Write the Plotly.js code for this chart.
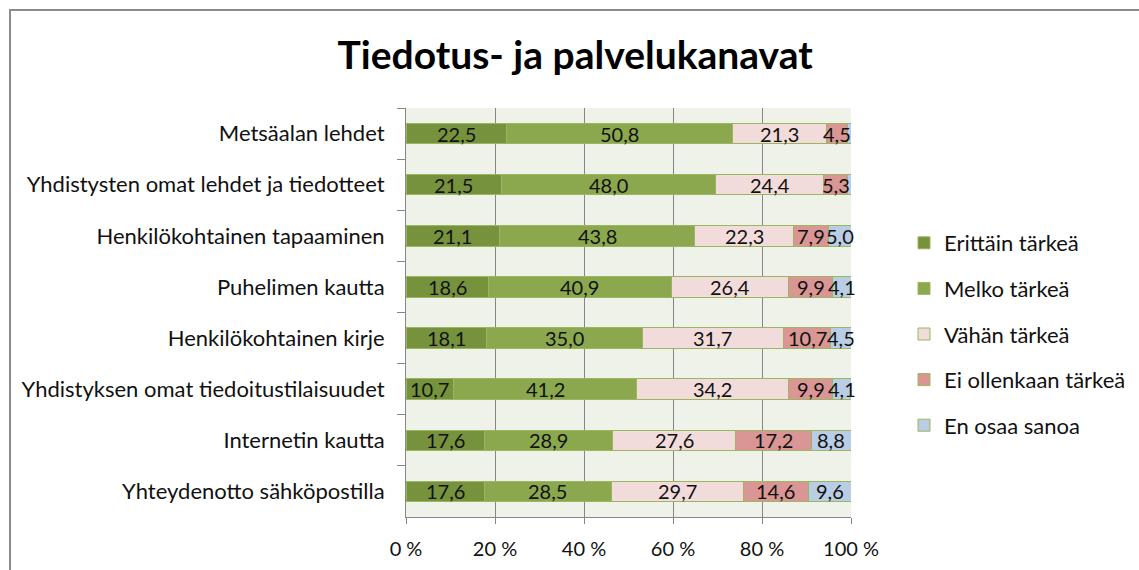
<!DOCTYPE html>
<html>
<head>
<meta charset="utf-8">
<script src="https://cdn.plot.ly/plotly-3.0.1.min.js"></script>
<style>
html,body{margin:0;padding:0;background:#fff;}
#chart{width:1139px;height:570px;}
</style>
</head>
<body>
<div id="chart"></div>
<script>
const categories = [
  "Metsäalan lehdet",
  "Yhdistysten omat lehdet ja tiedotteet",
  "Henkilökohtainen tapaaminen",
  "Puhelimen kautta",
  "Henkilökohtainen kirje",
  "Yhdistyksen omat tiedoitustilaisuudet",
  "Internetin kautta",
  "Yhteydenotto sähköpostilla"
];
const seriesNames = ["Erittäin tärkeä", "Melko tärkeä", "Vähän tärkeä", "Ei ollenkaan tärkeä", "En osaa sanoa"];
const erittain = [22.5, 21.5, 21.1, 18.6, 18.1, 10.7, 17.6, 17.6];
const melko    = [50.8, 48.0, 43.8, 40.9, 35.0, 41.2, 28.9, 28.5];
const vahan    = [21.3, 24.4, 22.3, 26.4, 31.7, 34.2, 27.6, 29.7];
const ei       = [4.5, 5.3, 7.9, 9.9, 10.7, 9.9, 17.2, 14.6];
const enOsaa   = [0.9, 0.8, 5.0, 4.1, 4.5, 4.1, 8.8, 9.6];
const showLabel = [
  [true,true,true,true,true,true,true,true],
  [true,true,true,true,true,true,true,true],
  [true,true,true,true,true,true,true,true],
  [true,true,true,true,true,true,true,true],
  [false,false,true,true,true,true,true,true]
];
const xTickVals = [0, 20, 40, 60, 80, 100];
const xTickText = ["0 %", "20 %", "40 %", "60 %", "80 %", "100 %"];

const colors = ["#76923C", "#8CA84E", "#F2DCDB", "#D99694", "#B9CDE5"];
const values = [erittain, melko, vahan, ei, enOsaa];
const FONT = "Lato, 'Open Sans', sans-serif";

const fmt = v => v.toFixed(1).replace('.', ',');

const traces = values.map((vals, i) => ({
  type: 'bar',
  orientation: 'h',
  name: seriesNames[i],
  y: categories,
  x: vals,
  marker: {color: colors[i], line: {color: '#9BB65E', width: 1}},
  legendgroup: 'g' + i,
  hoverinfo: 'name+x'
}));

// data labels: centred on each normalised segment
const annotations = [];
categories.forEach((cat, j) => {
  const total = values.reduce((s, arr) => s + arr[j], 0);
  let cum = 0;
  values.forEach((arr, i) => {
    const pct = arr[j] / total * 100;
    if (showLabel[i][j]) {
      annotations.push({
        xref: 'x', yref: 'y', x: cum + pct / 2, y: cat,
        text: fmt(arr[j]), showarrow: false,
        font: {family: FONT, size: 20, color: '#111'},
        xanchor: 'center', yanchor: 'middle'
      });
    }
    cum += pct;
  });
});

const layout = {
  width: 1139, height: 570,
  margin: {l: 406, r: 288, t: 108, b: 53},
  paper_bgcolor: '#ffffff',
  plot_bgcolor: '#EFF2E9',
  barmode: 'stack',
  barnorm: 'percent',
  bargap: 0.6,
  font: {family: FONT, size: 21, color: '#111'},
  title: {
    text: '<b>Tiedotus- ja palvelukanavat</b>',
    font: {family: FONT, size: 39, color: '#000'},
    x: 0.505, xref: 'container', xanchor: 'center',
    y: 1 - 55/570, yref: 'container', yanchor: 'middle'
  },
  xaxis: {
    range: [0, 100],
    tickvals: xTickVals,
    ticktext: xTickText,
    showgrid: true,
    gridcolor: '#868686',
    gridwidth: 1,
    zeroline: false,
    showline: true,
    linecolor: '#868686',
    linewidth: 1,
    ticks: 'outside',
    ticklen: 6,
    tickcolor: '#868686',
    ticklabelstandoff: 8,
    tickfont: {family: FONT, size: 20, color: '#111'},
    fixedrange: true
  },
  yaxis: {
    autorange: 'reversed',
    showline: true,
    linecolor: '#868686',
    linewidth: 1,
    ticks: 'outside',
    tickson: 'boundaries',
    ticklen: 8,
    tickcolor: '#868686',
    ticklabelstandoff: 16,
    tickfont: {family: FONT, size: 22, color: '#111'},
    showgrid: false,
    fixedrange: true
  },
  showlegend: true,
  legend: {
    xref: 'container', yref: 'container',
    x: 904 / 1139, xanchor: 'left',
    y: 1 - 222 / 570, yanchor: 'top',
    traceorder: 'grouped',
    tracegroupgap: 14,
    font: {family: FONT, size: 22, color: '#111'},
    bgcolor: 'rgba(0,0,0,0)',
    itemwidth: 30
  },
  annotations: annotations,
  shapes: [{
    type: 'rect', xref: 'paper', yref: 'paper', layer: 'below',
    x0: (10 - 406) / 445, x1: (1160 - 406) / 445,
    y0: (517 - 600) / 409, y1: (517 - 10) / 409,
    line: {color: '#8C8C8C', width: 2}, fillcolor: 'rgba(0,0,0,0)'
  }]
};

Plotly.newPlot('chart', traces, layout, {displayModeBar: false, staticPlot: true});
</script>
</body>
</html>
